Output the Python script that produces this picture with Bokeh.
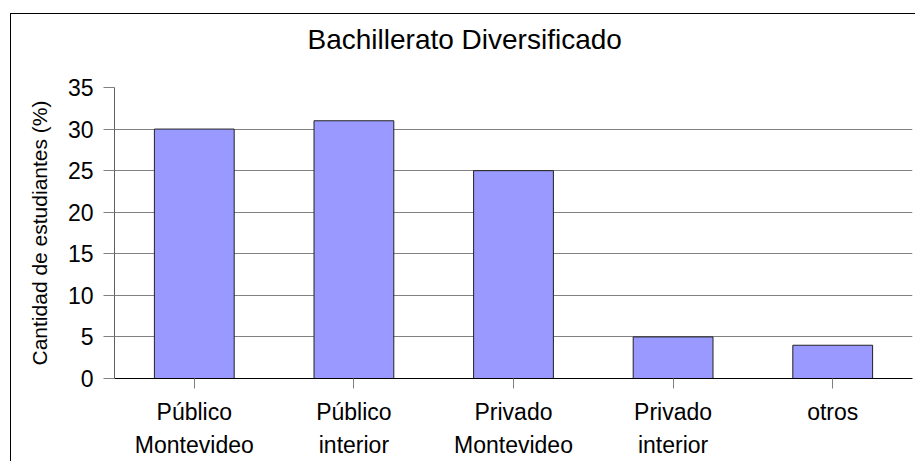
from bokeh.plotting import figure
from bokeh.models import Range1d, FixedTicker, Title
from bokeh.embed import file_html
from bokeh.resources import INLINE

categories = ["Público\nMontevideo", "Público\ninterior", "Privado\nMontevideo", "Privado\ninterior", "otros"]
values = [30, 31, 25, 5, 4]
y_ticks = [0, 5, 10, 15, 20, 25, 30, 35]
title_text = "Bachillerato Diversificado"
y_label = "Cantidad de estudiantes (%)"

FONT = "Liberation Sans"

p = figure(x_range=categories, y_range=Range1d(0, 35),
           width=905, height=448,
           output_backend="svg", toolbar_location=None,
           min_border_left=103, min_border_right=4,
           min_border_top=73, min_border_bottom=84,
           title=None)

p.styles = {"margin-left": "10px", "margin-top": "13px", "margin-bottom": "-8px",
            "border-left": "1px solid black", "border-top": "1px solid black"}

p.vbar(x=categories, top=values, width=0.5, fill_color="#9999FF",
       line_color="#222222", line_width=1)

# trailing line break keeps a blank line between the title and the plot area
p.add_layout(Title(text=title_text + "\n", text_font=FONT, text_font_size="28px",
                   text_font_style="normal", text_color="black",
                   text_line_height=1.0,
                   align="left", offset=193, standoff=4), "above")

p.outline_line_color = None
p.background_fill_color = "white"
p.border_fill_color = "white"

p.xgrid.grid_line_color = None
p.ygrid.grid_line_color = "#808080"
p.ygrid.ticker = FixedTicker(ticks=y_ticks)

p.yaxis.ticker = FixedTicker(ticks=y_ticks)
p.yaxis.axis_line_color = "#606060"
p.yaxis.major_tick_line_color = "#808080"
p.yaxis.major_tick_out = 11
p.yaxis.major_tick_in = 0
p.yaxis.minor_tick_line_color = None
p.yaxis.major_label_text_font = FONT
p.yaxis.major_label_text_font_size = "23px"
p.yaxis.major_label_text_color = "black"
p.yaxis.major_label_standoff = 10
p.yaxis.axis_label = y_label
p.yaxis.axis_label_text_font = FONT
p.yaxis.axis_label_text_font_size = "21px"
p.yaxis.axis_label_text_font_style = "normal"
p.yaxis.axis_label_text_color = "black"
p.yaxis.axis_label_standoff = 14

xax = p.below[0]
xax.axis_line_color = "black"
xax.major_tick_line_color = "#808080"
xax.major_tick_out = 10
xax.major_tick_in = 0
xax.major_label_text_font = FONT
xax.major_label_text_font_size = "23px"
xax.major_label_text_color = "black"
xax.major_label_text_line_height = 1.3
xax.major_label_standoff = 10

open("out.html", "w").write(file_html(p, INLINE))
